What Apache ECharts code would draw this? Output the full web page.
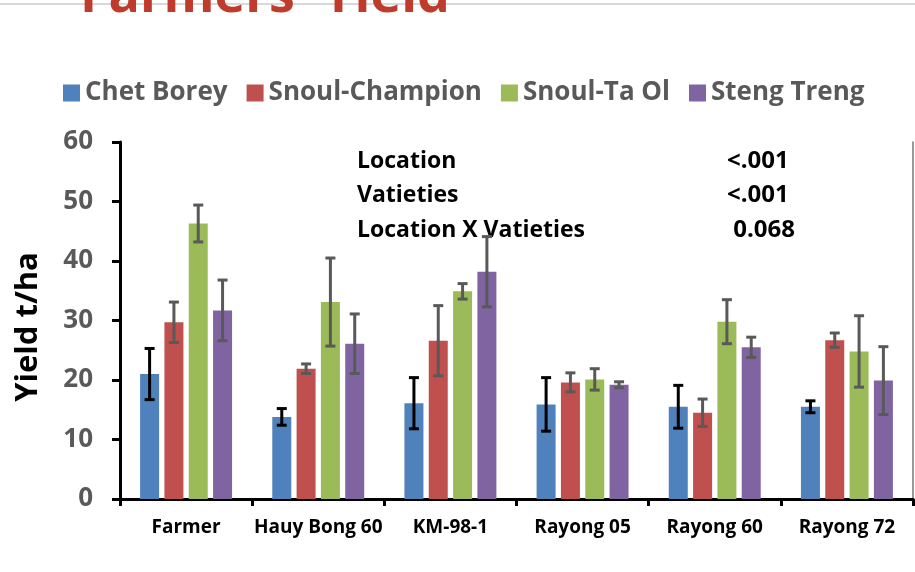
<!DOCTYPE html>
<html>
<head>
<meta charset="utf-8">
<title>Farmers' Yield</title>
<script src="https://cdn.jsdelivr.net/npm/echarts@6/dist/echarts.min.js"></script>
<style>
  html, body { margin: 0; padding: 0; background: #fff; }
  #main { width: 915px; height: 572px; }
</style>
</head>
<body>
<div id="main"></div>
<script>
// 品种 (x轴)
var varieties = ['Farmer', 'Hauy Bong 60', 'KM-98-1', 'Rayong 05', 'Rayong 60', 'Rayong 72'];
// 地点 (图例)
var locations = ['Chet Borey', 'Snoul-Champion', 'Snoul-Ta Ol', 'Steng Treng'];
var colors = ['#4F81BD', '#C0504D', '#9BBB59', '#8064A2'];
var errColors = ['#000000', '#595959', '#595959', '#595959'];

// 产量 t/ha
var chetBorey     = [21.0, 13.8, 16.1, 15.9, 15.5, 15.5];
var snoulChampion = [29.7, 21.9, 26.6, 19.6, 14.5, 26.7];
var snoulTaOl     = [46.3, 33.1, 34.9, 20.1, 29.8, 24.8];
var stengTreng    = [31.7, 26.1, 38.2, 19.2, 25.5, 19.9];
// 误差
var chetBoreyErr     = [4.3, 1.4, 4.3, 4.5, 3.6, 1.0];
var snoulChampionErr = [3.4, 0.8, 5.9, 1.6, 2.3, 1.2];
var snoulTaOlErr     = [3.1, 7.4, 1.3, 1.8, 3.7, 6.0];
var stengTrengErr    = [5.1, 5.0, 5.9, 0.5, 1.7, 5.7];

var yTicks = [0, 10, 20, 30, 40, 50, 60];

// 显著性
var statLabels = ['Location', 'Vatieties', 'Location X Vatieties'];
var statValues = ['<.001', '<.001', ' 0.068'];

var values = [chetBorey, snoulChampion, snoulTaOl, stengTreng];
var errors = [chetBoreyErr, snoulChampionErr, snoulTaOlErr, stengTrengErr];

var barWidth = 19;
var barGapRatio = 0.28;
var pitch = barWidth * (1 + barGapRatio);

var myChart = echarts.init(document.getElementById('main'));

var series = [];
for (var s = 0; s < locations.length; s++) {
	series.push({
		name: locations[s],
		type: 'bar',
		barWidth: barWidth,
		barGap: (barGapRatio * 100) + '%',
		itemStyle: { color: colors[s] },
		data: values[s]
	});
}
// 误差线
for (var s = 0; s < locations.length; s++) {
	var errData = [];
	for (var i = 0; i < varieties.length; i++) {
		errData.push([i, values[s][i], errors[s][i]]);
	}
	(function (k) {
		series.push({
			name: locations[k],
			type: 'custom',
			z: 5,
			encode: { x: 0, y: 1 },
			data: errData,
			renderItem: function (params, api) {
				var idx = api.value(0);
				var v = api.value(1);
				var e = api.value(2);
				var hi = api.coord([idx, v + e]);
				var lo = api.coord([idx, v - e]);
				var x = hi[0] + (k - 1.5) * pitch;
				var cap = 5;
				var st = { stroke: errColors[k], lineWidth: 3 };
				return {
					type: 'group',
					children: [
						{ type: 'line', shape: { x1: x, y1: hi[1], x2: x, y2: lo[1] }, style: st },
						{ type: 'line', shape: { x1: x - cap, y1: hi[1], x2: x + cap, y2: hi[1] }, style: st },
						{ type: 'line', shape: { x1: x - cap, y1: lo[1], x2: x + cap, y2: lo[1] }, style: st }
					]
				};
			}
		});
	})(s);
}

var graphics = [
	// 顶部灰线
	{ type: 'line', shape: { x1: 0, y1: 4, x2: 915, y2: 4 }, style: { stroke: '#cccccc', lineWidth: 1.5 }, z: 1 },
	// 标题 (被截断)
	{
		type: 'text', left: 80, top: -29, z: 2,
		style: { text: "Farmers' Yield", font: 'bold 52px "Open Sans"', fill: '#BF3B2C' }
	},
	// y轴标题
	{
		type: 'text', x: 28, y: 327, rotation: Math.PI / 2,
		style: { text: 'Yield t/ha', font: 'bold 31px "Open Sans"', fill: '#000', textAlign: 'center', textVerticalAlign: 'middle' }
	}
];
var rowsY = [161, 195, 230];
var valueX = [727, 727, 727];
for (var r = 0; r < statLabels.length; r++) {
	graphics.push({
		type: 'text', x: 357, y: rowsY[r],
		style: { text: statLabels[r], font: 'bold 23px "Open Sans"', fill: '#000', textVerticalAlign: 'middle' }
	});
	graphics.push({
		type: 'text', x: valueX[r], y: rowsY[r],
		style: { text: statValues[r], font: 'bold 24px "Open Sans"', fill: '#000', textVerticalAlign: 'middle' }
	});
}

myChart.setOption({
	animation: false,
	textStyle: { fontFamily: '"Open Sans", sans-serif' },
	legend: {
		data: locations,
		left: 58,
		top: 75,
		itemWidth: 17,
		itemHeight: 17,
		itemGap: 19,
		icon: 'rect',
		textStyle: { fontSize: 26, fontWeight: 'bold', color: '#595959' }
	},
	grid: { left: 120, right: 2, top: 142, bottom: 73 },
	xAxis: [{
		type: 'category',
		data: varieties,
		axisLine: { lineStyle: { color: '#000', width: 3 } },
		axisTick: { show: true, length: 7, lineStyle: { color: '#000', width: 3 } },
		axisLabel: { margin: 19, fontSize: 19, fontWeight: 'bold', color: '#000', interval: 0 }
	}, {
		type: 'category',
		data: varieties,
		position: 'top',
		axisLine: { lineStyle: { color: '#000', width: 3 } },
		axisTick: { show: false },
		axisLabel: { show: false }
	}],
	yAxis: [{
		type: 'value',
		min: yTicks[0],
		max: yTicks[yTicks.length - 1],
		interval: 10,
		splitLine: { show: false },
		axisLine: { show: true, lineStyle: { color: '#000', width: 3 } },
		axisTick: { show: true, length: 8, lineStyle: { color: '#000', width: 3 } },
		axisLabel: { margin: 27, fontSize: 26, fontWeight: 'bold', color: '#595959' }
	}, {
		type: 'value',
		position: 'right',
		min: yTicks[0],
		max: yTicks[yTicks.length - 1],
		splitLine: { show: false },
		axisLine: { show: true, lineStyle: { color: '#777', width: 1.5 } },
		axisTick: { show: false },
		axisLabel: { show: false }
	}],
	graphic: graphics,
	series: series
});
</script>
</body>
</html>
